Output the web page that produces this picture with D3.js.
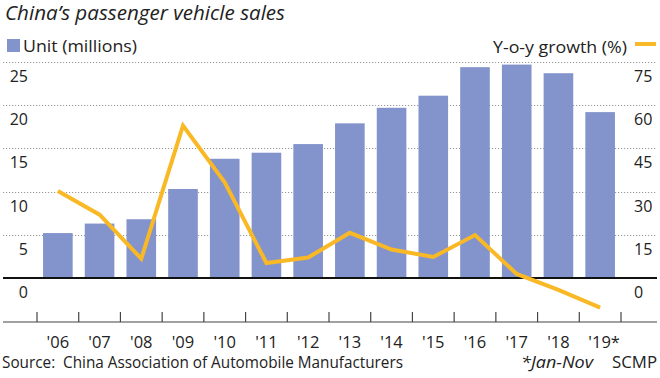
<!DOCTYPE html>
<html><head><meta charset="utf-8">
<script src="https://cdn.jsdelivr.net/npm/d3@7"></script>
<style>body{margin:0;background:#fff}svg{display:block}text{font-family:"Open Sans",sans-serif;fill:#222}</style>
</head><body><svg id="c" width="660" height="378"></svg>
<script>
const years = ["'06","'07","'08","'09","'10","'11","'12","'13","'14","'15","'16","'17","'18","'19*"];
const units = [5.2, 6.3, 6.8, 10.3, 13.8, 14.5, 15.5, 17.9, 19.7, 21.1, 24.4, 24.7, 23.7, 19.2];
const growth = [30.2, 22, 6.7, 52.9, 33.2, 5.2, 7.1, 15.7, 9.9, 7.3, 14.9, 1.4, -4.1, -10.3];
const leftTicks = [0, 5, 10, 15, 20, 25];
const rightTicks = [0, 15, 30, 45, 60, 75];

const svg = d3.select("#c");
const x = d3.scaleBand().domain(years).range([37, 621]).paddingInner(0.29).paddingOuter(0.145);
const yL = d3.scaleLinear().domain([0, 25]).range([278, 62]);
const yR = d3.scaleLinear().domain([0, 75]).range([278, 62]);
const barColor = "#8393cb", lineColor = "#f9b826";

// gridlines
svg.append("g").selectAll("line").data(leftTicks.filter(d => d > 0)).join("line")
  .attr("x1", 3).attr("x2", 657).attr("y1", d => Math.round(yL(d)) + 0.5).attr("y2", d => Math.round(yL(d)) + 0.5)
  .attr("stroke", "#999").attr("stroke-width", 1).attr("stroke-dasharray", "1.2,1.8");

// bars
svg.append("g").selectAll("rect").data(units).join("rect")
  .attr("x", (d, i) => x(years[i])).attr("width", x.bandwidth())
  .attr("y", d => yL(d)).attr("height", d => yL(0) - yL(d)).attr("fill", barColor);

// baseline
svg.append("line").attr("x1", 3).attr("x2", 657).attr("y1", yL(0)).attr("y2", yL(0))
  .attr("stroke", "#111").attr("stroke-width", 2);

// left labels
svg.append("g").selectAll("text").data(leftTicks).join("text")
  .attr("x", 28).attr("y", d => yL(d) + 20).attr("text-anchor", "end")
  .attr("font-size", 16).text(d => d);
// right labels
svg.append("g").selectAll("text").data(rightTicks).join("text")
  .attr("x", 634).attr("y", d => yR(d) + 20).attr("text-anchor", "start")
  .attr("font-size", 16).text(d => d);

// bottom axis
const ax = svg.append("g").attr("transform", "translate(0,322)");
ax.append("line").attr("x1", 3).attr("x2", 657).attr("stroke", "#444").attr("stroke-width", 1.2);
const bounds = years.map(y => x(y) - x.step() * x.paddingInner() / 2).concat([621]);
ax.selectAll("line.t").data(bounds).join("line").attr("class", "t")
  .attr("x1", d => d).attr("x2", d => d).attr("y1", -10).attr("y2", 0)
  .attr("stroke", "#444").attr("stroke-width", 1.2);
ax.selectAll("text").data(years).join("text")
  .attr("x", d => x(d) + x.bandwidth() / 2 + (d.endsWith("*") ? 4 : 0)).attr("y", 26)
  .attr("text-anchor", "middle").attr("font-size", 16.5).text(d => d);

// line
const line = d3.line().x((d, i) => x(years[i]) + x.bandwidth() / 2).y(d => yR(d));
svg.append("path").datum(growth).attr("d", line).attr("fill", "none")
  .attr("stroke", lineColor).attr("stroke-width", 4).attr("stroke-linejoin", "miter");

// title & legends
svg.append("text").attr("x", 5).attr("y", 20).attr("font-size", 20).attr("font-style", "italic")
  .attr("textLength", 280).attr("lengthAdjust", "spacingAndGlyphs").text("China’s passenger vehicle sales");
svg.append("rect").attr("x", 7).attr("y", 39).attr("width", 13).attr("height", 13).attr("fill", barColor);
svg.append("text").attr("x", 23).attr("y", 52).attr("font-size", 17)
  .attr("textLength", 114).attr("lengthAdjust", "spacingAndGlyphs").text("Unit (millions)");
svg.append("text").attr("x", 493).attr("y", 53).attr("font-size", 17)
  .attr("textLength", 134).attr("lengthAdjust", "spacingAndGlyphs").text("Y-o-y growth (%)");
svg.append("line").attr("x1", 635).attr("x2", 656).attr("y1", 44).attr("y2", 44)
  .attr("stroke", lineColor).attr("stroke-width", 4);

// footer
svg.append("text").attr("x", 2).attr("y", 368).attr("font-size", 16)
  .attr("textLength", 401).attr("lengthAdjust", "spacingAndGlyphs").attr("xml:space", "preserve")
  .text("Source:  China Association of Automobile Manufacturers");
svg.append("text").attr("x", 521).attr("y", 368).attr("font-size", 16).attr("font-style", "italic")
  .attr("textLength", 72).attr("lengthAdjust", "spacingAndGlyphs").text("*Jan-Nov");
svg.append("text").attr("x", 612).attr("y", 368).attr("font-size", 16)
  .attr("textLength", 45).attr("lengthAdjust", "spacingAndGlyphs").text("SCMP");
</script></body></html>
